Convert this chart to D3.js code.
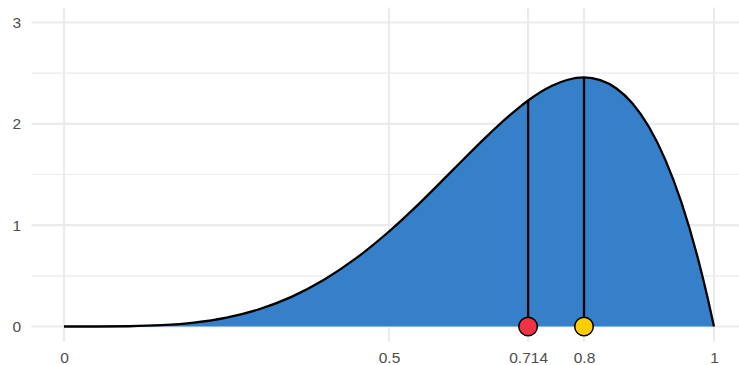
<!DOCTYPE html>
<html><head><meta charset="utf-8">
<script src="https://cdn.jsdelivr.net/npm/d3@7"></script>
<style>body{margin:0;background:#fff}svg{display:block}text{font-family:"Liberation Sans",Arial,sans-serif}</style>
</head><body>
<svg id="chart" width="739" height="365"></svg>
<script>
// density curve points
const curveX = [0,0.05,0.1,0.15,0.2,0.25,0.3,0.35,0.4,0.45,0.5,0.55,0.6,0.65,0.7,0.714,0.75,0.775,0.8,0.825,0.85,0.875,0.9,0.925,0.95,0.975,0.99,1];
const curveY = [0,0.00018,0.0027,0.0129,0.0384,0.0879,0.1701,0.2926,0.4608,0.6766,0.9375,1.2353,1.5552,1.8743,2.1609,2.2299,2.3730,2.4351,2.4576,2.4321,2.3490,2.1982,1.9683,1.6472,1.2218,0.6778,0.2882,0];
// marked points
const markX = [0.714, 0.8];
const markY = [2.2299, 2.4576];
const markColor = ["#ee3344", "#ffcc00"];
// axes
const xTicks = [0, 0.5, 0.714, 0.8, 1];
const xTickLabels = ["0", "0.5", "0.714", "0.8", "1"];
const yTicks = [0, 1, 2, 3];
const yMinor = [0.5, 1.5, 2.5];

const svg = d3.select("#chart");
const x = d3.scaleLinear().domain([0, 1]).range([64, 714]);
const y = d3.scaleLinear().domain([0, 3]).range([326.5, 22.5]);
const panel = {l: 31.5, r: 746, t: 7.5, b: 341.5};
const font = '"Liberation Sans",Arial,sans-serif';

const grid = svg.append("g");
grid.selectAll(".ymin").data(yMinor).join("line")
  .attr("x1", panel.l).attr("x2", panel.r).attr("y1", d => y(d)).attr("y2", d => y(d))
  .attr("stroke", "#ebebeb").attr("stroke-width", 1.1);
grid.selectAll(".ymaj").data(yTicks).join("line")
  .attr("x1", panel.l).attr("x2", panel.r).attr("y1", d => y(d)).attr("y2", d => y(d))
  .attr("stroke", "#ebebeb").attr("stroke-width", 2.1);
grid.selectAll(".xmaj").data(xTicks).join("line")
  .attr("y1", panel.t).attr("y2", panel.b).attr("x1", d => x(d)).attr("x2", d => x(d))
  .attr("stroke", "#ebebeb").attr("stroke-width", 2.1);

const pts = curveX.map((d, i) => [d, curveY[i]]);
svg.append("path").datum(pts)
  .attr("d", d3.area().x(d => x(d[0])).y0(y(0)).y1(d => y(d[1])).curve(d3.curveMonotoneX))
  .attr("fill", "#3580c8");
svg.append("path").datum(pts)
  .attr("d", d3.line().x(d => x(d[0])).y(d => y(d[1])).curve(d3.curveMonotoneX))
  .attr("fill", "none").attr("stroke", "#000").attr("stroke-width", 2.3);

svg.selectAll(".seg").data(markX).join("line")
  .attr("x1", d => x(d)).attr("x2", d => x(d)).attr("y1", y(0)).attr("y2", (d, i) => y(markY[i]))
  .attr("stroke", "#000").attr("stroke-width", 2.3);
svg.selectAll(".pt").data(markX).join("circle")
  .attr("cx", d => x(d)).attr("cy", y(0)).attr("r", 9.3)
  .attr("fill", (d, i) => markColor[i]).attr("stroke", "#000").attr("stroke-width", 1.5);

// axes labels
const xAxis = d3.axisBottom(x).tickValues(xTicks).tickFormat((d, i) => xTickLabels[i]).tickSize(0).tickPadding(0);
const gx = svg.append("g").attr("transform", "translate(0,352)").call(xAxis);
gx.select(".domain").remove();
gx.selectAll("text").attr("fill", "#4d4d4d").attr("font-size", 15.5).attr("dy", "0.71em").style("font-family", font);

const yAxis = d3.axisLeft(y).tickValues(yTicks).tickFormat(d3.format("d")).tickSize(0).tickPadding(0);
const gy = svg.append("g").attr("transform", "translate(21,0)").call(yAxis);
gy.select(".domain").remove();
gy.selectAll("text").attr("fill", "#4d4d4d").attr("font-size", 15.5).style("font-family", font);
</script>
</body></html>
